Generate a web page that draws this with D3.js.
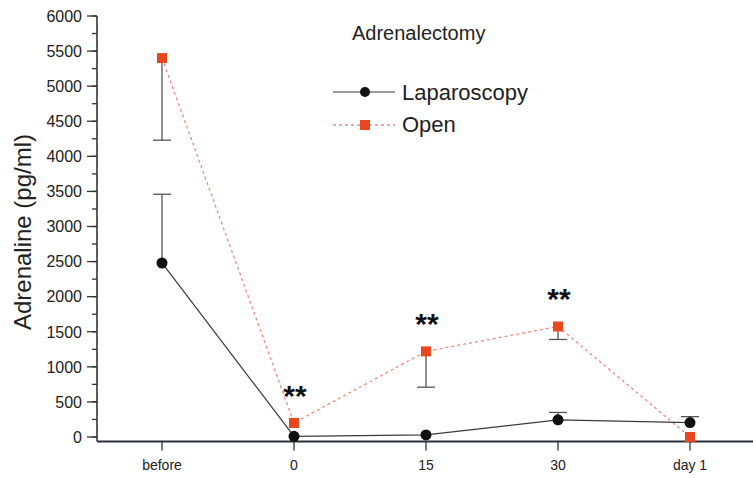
<!DOCTYPE html>
<html>
<head>
<meta charset="utf-8">
<script src="https://cdn.jsdelivr.net/npm/d3@7.9.0/dist/d3.min.js"></script>
<style>
  html, body { margin: 0; padding: 0; background: #fff; }
  svg { display: block; font-family: "Liberation Sans", Arial, sans-serif; }
</style>
</head>
<body>
<svg id="chart" width="753" height="478"></svg>
<script>
// data
const categories = ["before", "0", "15", "30", "day 1"];
const lapMean  = [2480, 10, 30, 245, 205];
const lapErr   = [980, 0, 0, 105, 85];      // drawn upward
const openMean = [5400, 200, 1220, 1575, 0];
const openErr  = [1170, 0, 510, 185, 0];    // drawn downward
const sigMarks = ["", "**", "**", "**", ""];
const yTicks   = d3.range(0, 6001, 500);
const yMinor   = d3.range(0, 6001, 250);

const svg = d3.select("#chart");
const axisLeftX = 97, axisBottomY = 441.5;

const x = d3.scalePoint().domain(categories).range([162, 690]);
const y = d3.scaleLinear().domain([0, 6000]).range([437, 16]);

const axisColor = "#333";

// y axis line + ticks
svg.append("line")
    .attr("x1", axisLeftX).attr("x2", axisLeftX)
    .attr("y1", y(6000)).attr("y2", axisBottomY)
    .attr("stroke", axisColor).attr("stroke-width", 1.6);

svg.selectAll(".yminor").data(yMinor).enter().append("line")
    .attr("x1", axisLeftX - 5).attr("x2", axisLeftX)
    .attr("y1", d => y(d)).attr("y2", d => y(d))
    .attr("stroke", axisColor).attr("stroke-width", 1.3);

svg.selectAll(".ymajor").data(yTicks).enter().append("line")
    .attr("x1", axisLeftX - 10).attr("x2", axisLeftX)
    .attr("y1", d => y(d)).attr("y2", d => y(d))
    .attr("stroke", axisColor).attr("stroke-width", 1.3);

svg.selectAll(".ylab").data(yTicks).enter().append("text")
    .attr("x", 82).attr("y", d => y(d))
    .attr("dy", "0.36em")
    .attr("text-anchor", "end")
    .attr("font-size", 16)
    .attr("fill", "#222")
    .text(d => d);

// x axis line + ticks
svg.append("line")
    .attr("x1", axisLeftX).attr("x2", 753)
    .attr("y1", axisBottomY).attr("y2", axisBottomY)
    .attr("stroke", "#2a2f3a").attr("stroke-width", 2);

svg.selectAll(".xtick").data(categories).enter().append("line")
    .attr("x1", d => x(d)).attr("x2", d => x(d))
    .attr("y1", axisBottomY).attr("y2", axisBottomY + 9)
    .attr("stroke", axisColor).attr("stroke-width", 1.3);

svg.selectAll(".xlab").data(categories).enter().append("text")
    .attr("x", d => x(d)).attr("y", 470)
    .attr("text-anchor", "middle")
    .attr("font-size", 14)
    .attr("fill", "#222")
    .text(d => d);

// y axis title
svg.append("text")
    .attr("transform", "translate(31,232) rotate(-90)")
    .attr("text-anchor", "middle")
    .attr("font-size", 24)
    .attr("fill", "#222")
    .text("Adrenaline (pg/ml)");

// chart title
svg.append("text")
    .attr("x", 352).attr("y", 40)
    .attr("font-size", 20)
    .attr("fill", "#222")
    .text("Adrenalectomy");

const openColor = "#e8461c";
const errColor = "#555";

// error bars
function errorBars(means, errs, dir, cls) {
    const rows = categories.map((c, i) => ({ c, m: means[i], e: errs[i] })).filter(d => d.e > 0);
    svg.selectAll("." + cls + "v").data(rows).enter().append("line")
        .attr("x1", d => x(d.c)).attr("x2", d => x(d.c))
        .attr("y1", d => y(d.m)).attr("y2", d => y(d.m + dir * d.e))
        .attr("stroke", errColor).attr("stroke-width", 1.3);
    svg.selectAll("." + cls + "h").data(rows).enter().append("line")
        .attr("x1", d => x(d.c) - 9).attr("x2", d => x(d.c) + 9)
        .attr("y1", d => y(d.m + dir * d.e)).attr("y2", d => y(d.m + dir * d.e))
        .attr("stroke", errColor).attr("stroke-width", 1.3);
}
errorBars(lapMean, lapErr, 1, "lapErr");
errorBars(openMean, openErr, -1, "openErr");

// lines
const line = d3.line().x((d, i) => x(categories[i])).y(d => y(d));

svg.append("path")
    .attr("d", line(openMean))
    .attr("fill", "none")
    .attr("stroke", "#ec8c80")
    .attr("stroke-width", 1.3)
    .attr("stroke-dasharray", "3,3");

svg.append("path")
    .attr("d", line(lapMean))
    .attr("fill", "none")
    .attr("stroke", "#3a3a3a")
    .attr("stroke-width", 1.2);

// markers
svg.selectAll(".lapPt").data(lapMean).enter().append("circle")
    .attr("cx", (d, i) => x(categories[i]))
    .attr("cy", d => y(d))
    .attr("r", 5.5)
    .attr("fill", "#111");

svg.selectAll(".openPt").data(openMean).enter().append("rect")
    .attr("x", (d, i) => x(categories[i]) - 5)
    .attr("y", d => y(d) - 5)
    .attr("width", 10).attr("height", 10)
    .attr("fill", openColor);

// significance marks above the Open series
svg.selectAll(".sig").data(sigMarks).enter().append("text")
    .attr("x", (d, i) => x(categories[i]) + 1)
    .attr("y", (d, i) => y(openMean[i]) - 17)
    .attr("text-anchor", "middle")
    .attr("font-size", 30)
    .attr("font-weight", "bold")
    .attr("fill", "#111")
    .text(d => d);

// legend
const legend = svg.append("g");
legend.append("line")
    .attr("x1", 333).attr("x2", 395).attr("y1", 92).attr("y2", 92)
    .attr("stroke", "#3a3a3a").attr("stroke-width", 1.2);
legend.append("circle").attr("cx", 365).attr("cy", 92).attr("r", 5).attr("fill", "#111");
legend.append("text").attr("x", 402).attr("y", 100)
    .attr("font-size", 22).attr("fill", "#222").text("Laparoscopy");

legend.append("line")
    .attr("x1", 333).attr("x2", 395).attr("y1", 125).attr("y2", 125)
    .attr("stroke", "#ec8c80").attr("stroke-width", 1.3).attr("stroke-dasharray", "3,3");
legend.append("rect").attr("x", 360).attr("y", 120).attr("width", 10).attr("height", 10).attr("fill", openColor);
legend.append("text").attr("x", 402).attr("y", 132)
    .attr("font-size", 22).attr("fill", "#222").text("Open");
</script>
</body>
</html>
